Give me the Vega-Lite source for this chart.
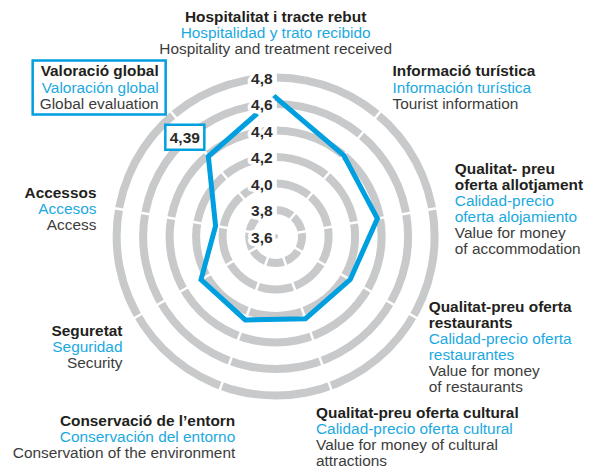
{
  "$schema": "https://vega.github.io/schema/vega-lite/v6.json",
  "width": 598,
  "height": 474,
  "autosize": "none",
  "padding": 0,
  "config": {
    "view": {"stroke": null},
    "font": "Liberation Sans",
    "locale": {"number": {"decimal": ",", "thousands": ".", "grouping": [3], "currency": ["", " €"]}}
  },
  "datasets": {
    "rings": [{"v": 3.6}, {"v": 3.8}, {"v": 4.0}, {"v": 4.2}, {"v": 4.4}, {"v": 4.6}, {"v": 4.8}],
    "scores": [
      {"axis": 0, "aspect": "Hospitalitat i tracte rebut", "v": 4.65},
      {"axis": 1, "aspect": "Informació turística", "v": 4.40},
      {"axis": 2, "aspect": "Qualitat-preu oferta allotjament", "v": 4.38},
      {"axis": 3, "aspect": "Qualitat-preu oferta restaurants", "v": 4.25},
      {"axis": 4, "aspect": "Qualitat-preu oferta cultural", "v": 4.26},
      {"axis": 5, "aspect": "Conservació de l’entorn", "v": 4.27},
      {"axis": 6, "aspect": "Seguretat", "v": 4.25},
      {"axis": 7, "aspect": "Accessos", "v": 4.06},
      {"axis": 8, "aspect": "Valoració global", "v": 4.39}
    ],
    "labels": [
      {"axis": 0, "line": 0, "lang": "ca", "text": "Hospitalitat i tracte rebut"},
      {"axis": 0, "line": 1, "lang": "es", "text": "Hospitalidad y trato recibido"},
      {"axis": 0, "line": 2, "lang": "en", "text": "Hospitality and treatment received"},
      {"axis": 1, "line": 0, "lang": "ca", "text": "Informació turística"},
      {"axis": 1, "line": 1, "lang": "es", "text": "Información turística"},
      {"axis": 1, "line": 2, "lang": "en", "text": "Tourist information"},
      {"axis": 2, "line": 0, "lang": "ca", "text": "Qualitat- preu"},
      {"axis": 2, "line": 1, "lang": "ca", "text": "oferta allotjament"},
      {"axis": 2, "line": 2, "lang": "es", "text": "Calidad-precio"},
      {"axis": 2, "line": 3, "lang": "es", "text": "oferta alojamiento"},
      {"axis": 2, "line": 4, "lang": "en", "text": "Value for money"},
      {"axis": 2, "line": 5, "lang": "en", "text": "of accommodation"},
      {"axis": 3, "line": 0, "lang": "ca", "text": "Qualitat-preu oferta"},
      {"axis": 3, "line": 1, "lang": "ca", "text": "restaurants"},
      {"axis": 3, "line": 2, "lang": "es", "text": "Calidad-precio oferta"},
      {"axis": 3, "line": 3, "lang": "es", "text": "restaurantes"},
      {"axis": 3, "line": 4, "lang": "en", "text": "Value for money"},
      {"axis": 3, "line": 5, "lang": "en", "text": "of restaurants"},
      {"axis": 4, "line": 0, "lang": "ca", "text": "Qualitat-preu oferta cultural"},
      {"axis": 4, "line": 1, "lang": "es", "text": "Calidad-precio oferta cultural"},
      {"axis": 4, "line": 2, "lang": "en", "text": "Value for money of cultural"},
      {"axis": 4, "line": 3, "lang": "en", "text": "attractions"},
      {"axis": 5, "line": 0, "lang": "ca", "text": "Conservació de l’entorn"},
      {"axis": 5, "line": 1, "lang": "es", "text": "Conservación del entorno"},
      {"axis": 5, "line": 2, "lang": "en", "text": "Conservation of the environment"},
      {"axis": 6, "line": 0, "lang": "ca", "text": "Seguretat"},
      {"axis": 6, "line": 1, "lang": "es", "text": "Seguridad"},
      {"axis": 6, "line": 2, "lang": "en", "text": "Security"},
      {"axis": 7, "line": 0, "lang": "ca", "text": "Accessos"},
      {"axis": 7, "line": 1, "lang": "es", "text": "Accesos"},
      {"axis": 7, "line": 2, "lang": "en", "text": "Access"},
      {"axis": 8, "line": 0, "lang": "ca", "text": "Valoració global"},
      {"axis": 8, "line": 1, "lang": "es", "text": "Valoración global"},
      {"axis": 8, "line": 2, "lang": "en", "text": "Global evaluation"}
    ]
  },
  "layer": [
    {
      "data": {"name": "rings"},
      "transform": [{"filter": "datum.v > 3.7"}],
      "mark": {"type": "arc", "theta": 0, "theta2": 6.2832, "radiusOffset": 4, "radius2Offset": -4, "fill": "#c8c9cb"},
      "encoding": {
        "x": {"datum": 0, "type": "quantitative", "scale": {"domain": [-2.08, 2.433], "nice": false, "zero": false}, "axis": null},
        "y": {"datum": 0, "type": "quantitative", "scale": {"domain": [-1.792, 1.785], "nice": false, "zero": false}, "axis": null},
        "radius": {"field": "v", "type": "quantitative", "scale": {"type": "linear", "domain": [3.6, 4.8], "range": [0, 159], "zero": false, "nice": false}},
        "radius2": {"field": "v"}
      }
    },
    {
      "data": {"name": "scores"},
      "transform": [
        {"calculate": "datum.axis * PI / 4.5", "as": "a"},
        {"calculate": "0.07 * sin(datum.a)", "as": "x1"},
        {"calculate": "0.07 * cos(datum.a)", "as": "y1"},
        {"calculate": "1.32 * sin(datum.a)", "as": "x2"},
        {"calculate": "1.32 * cos(datum.a)", "as": "y2"}
      ],
      "mark": {"type": "rule", "color": "white", "strokeWidth": 2.5},
      "encoding": {
        "x": {"field": "x1", "type": "quantitative", "scale": {"domain": [-2.08, 2.433], "nice": false, "zero": false}, "axis": null},
        "y": {"field": "y1", "type": "quantitative", "scale": {"domain": [-1.792, 1.785], "nice": false, "zero": false}, "axis": null},
        "x2": {"field": "x2"},
        "y2": {"field": "y2"}
      }
    },
    {
      "data": {"name": "rings"},
      "transform": [{"filter": "datum.v < 3.7"}, {"calculate": "datum.v - 3.6", "as": "r"}],
      "mark": {"type": "point", "filled": true, "color": "#c8c9cb", "opacity": 1, "size": 24},
      "encoding": {
        "x": {"datum": 0, "type": "quantitative", "scale": {"domain": [-2.08, 2.433], "nice": false, "zero": false}, "axis": null},
        "y": {"field": "r", "type": "quantitative", "scale": {"domain": [-1.792, 1.785], "nice": false, "zero": false}, "axis": null}
      }
    },
    {
      "data": {"name": "scores"},
      "transform": [
        {"calculate": "datum.axis * PI / 4.5", "as": "a"},
        {"calculate": "(datum.v - 3.6) * sin(datum.a)", "as": "px"},
        {"calculate": "(datum.v - 3.6) * cos(datum.a)", "as": "py"}
      ],
      "mark": {"type": "line", "interpolate": "linear-closed", "color": "#009fdf", "strokeWidth": 5, "strokeJoin": "miter"},
      "encoding": {
        "x": {"field": "px", "type": "quantitative", "scale": {"domain": [-2.08, 2.433], "nice": false, "zero": false}, "axis": null},
        "y": {"field": "py", "type": "quantitative", "scale": {"domain": [-1.792, 1.785], "nice": false, "zero": false}, "axis": null},
        "order": {"field": "axis", "type": "quantitative"}
      }
    },
    {
      "data": {"name": "rings"},
      "transform": [{"calculate": "datum.v - 3.6", "as": "r"}],
      "encoding": {
        "x": {"datum": 0, "type": "quantitative", "scale": {"domain": [-2.08, 2.433], "nice": false, "zero": false}, "axis": null},
        "y": {"field": "r", "type": "quantitative", "scale": {"domain": [-1.792, 1.785], "nice": false, "zero": false}, "axis": null},
        "text": {"field": "v", "type": "quantitative", "format": ".1f"}
      },
      "layer": [
        {"mark": {"type": "text", "align": "right", "baseline": "middle", "dx": -3, "dy": 1, "fontSize": 15.5, "fontWeight": "bold", "fill": "white", "stroke": "white", "strokeWidth": 7, "strokeJoin": "round"}},
        {"mark": {"type": "text", "align": "right", "baseline": "middle", "dx": -3, "dy": 1, "fontSize": 15.5, "fontWeight": "bold", "fill": "#2b2a29"}}
      ]
    },
    {
      "data": {"name": "scores"},
      "transform": [
        {"filter": "datum.axis == 8"},
        {"calculate": "datum.axis * PI / 4.5", "as": "a"},
        {"calculate": "(datum.v - 3.6) * sin(datum.a)", "as": "px"},
        {"calculate": "(datum.v - 3.6) * cos(datum.a)", "as": "py"}
      ],
      "encoding": {
        "x": {"field": "px", "type": "quantitative", "scale": {"domain": [-2.08, 2.433], "nice": false, "zero": false}, "axis": null},
        "y": {"field": "py", "type": "quantitative", "scale": {"domain": [-1.792, 1.785], "nice": false, "zero": false}, "axis": null}
      },
      "layer": [
        {
          "mark": {"type": "point", "shape": "M-1,-0.641L1,-0.641L1,0.641L-1,0.641Z", "size": 1521, "filled": true, "fill": "white", "stroke": "#009fdf", "strokeWidth": 2.5, "opacity": 1, "xOffset": -23.5, "yOffset": -19}
        },
        {
          "mark": {"type": "text", "fontSize": 15.5, "fontWeight": "bold", "fill": "#2b2a29", "align": "center", "baseline": "middle", "dx": -23.5, "dy": -18},
          "encoding": {"text": {"field": "v", "type": "quantitative", "format": ".2f"}}
        }
      ]
    },
    {
      "data": {"name": "labels"},
      "transform": [
        {"joinaggregate": [{"op": "count", "as": "n"}], "groupby": ["axis"]},
        {"calculate": "datum.axis * PI / 4.5", "as": "a"},
        {"calculate": "1.373 * sin(datum.a) * (1 - 0.45 * pow(max(0, -cos(datum.a)), 4))", "as": "lx"},
        {"calculate": "1.547 * cos(datum.a) - 0.0604 - (datum.line - (datum.n - 1) / 2) * 0.1208", "as": "ly"},
        {"calculate": "datum.axis == 0 ? 'center' : (datum.axis <= 4 ? 'left' : 'right')", "as": "side"}
      ],
      "encoding": {
        "x": {"field": "lx", "type": "quantitative", "scale": {"domain": [-2.08, 2.433], "nice": false, "zero": false}, "axis": null},
        "y": {"field": "ly", "type": "quantitative", "scale": {"domain": [-1.792, 1.785], "nice": false, "zero": false}, "axis": null}
      },
      "layer": [
        {
          "transform": [{"filter": "datum.axis == 8 && datum.line == 1"}],
          "mark": {"type": "point", "shape": "M-1,-0.406L1,-0.406L1,0.406L-1,0.406Z", "size": 17689, "filled": true, "fill": "white", "stroke": "#009fdf", "strokeWidth": 2.5, "opacity": 1, "xOffset": -59.5}
        },
        {
          "transform": [{"filter": "datum.lang == 'ca' && datum.side == 'center'"}],
          "mark": {"type": "text", "align": "center", "baseline": "middle", "dy": -7, "fontSize": 15.4, "fontWeight": "bold", "fill": "#231f20"},
          "encoding": {"text": {"field": "text"}}
        },
        {
          "transform": [{"filter": "datum.lang == 'ca' && datum.side == 'left'"}],
          "mark": {"type": "text", "align": "left", "baseline": "middle", "fontSize": 15.4, "fontWeight": "bold", "fill": "#231f20"},
          "encoding": {"text": {"field": "text"}}
        },
        {
          "transform": [{"filter": "datum.lang == 'ca' && datum.side == 'right'"}],
          "mark": {"type": "text", "align": "right", "baseline": "middle", "fontSize": 15.4, "fontWeight": "bold", "fill": "#231f20"},
          "encoding": {"text": {"field": "text"}}
        },
        {
          "transform": [{"filter": "datum.lang != 'ca' && datum.side == 'center'"}],
          "mark": {"type": "text", "align": "center", "baseline": "middle", "dy": -7, "fontSize": 15.4},
          "encoding": {
            "text": {"field": "text"},
            "color": {"field": "lang", "type": "nominal", "scale": {"domain": ["es", "en"], "range": ["#1ba9e1", "#3c3c3b"]}, "legend": null}
          }
        },
        {
          "transform": [{"filter": "datum.lang != 'ca' && datum.side == 'left'"}],
          "mark": {"type": "text", "align": "left", "baseline": "middle", "fontSize": 15.4},
          "encoding": {
            "text": {"field": "text"},
            "color": {"field": "lang", "type": "nominal", "scale": {"domain": ["es", "en"], "range": ["#1ba9e1", "#3c3c3b"]}, "legend": null}
          }
        },
        {
          "transform": [{"filter": "datum.lang != 'ca' && datum.side == 'right'"}],
          "mark": {"type": "text", "align": "right", "baseline": "middle", "fontSize": 15.4},
          "encoding": {
            "text": {"field": "text"},
            "color": {"field": "lang", "type": "nominal", "scale": {"domain": ["es", "en"], "range": ["#1ba9e1", "#3c3c3b"]}, "legend": null}
          }
        }
      ]
    }
  ]
}
